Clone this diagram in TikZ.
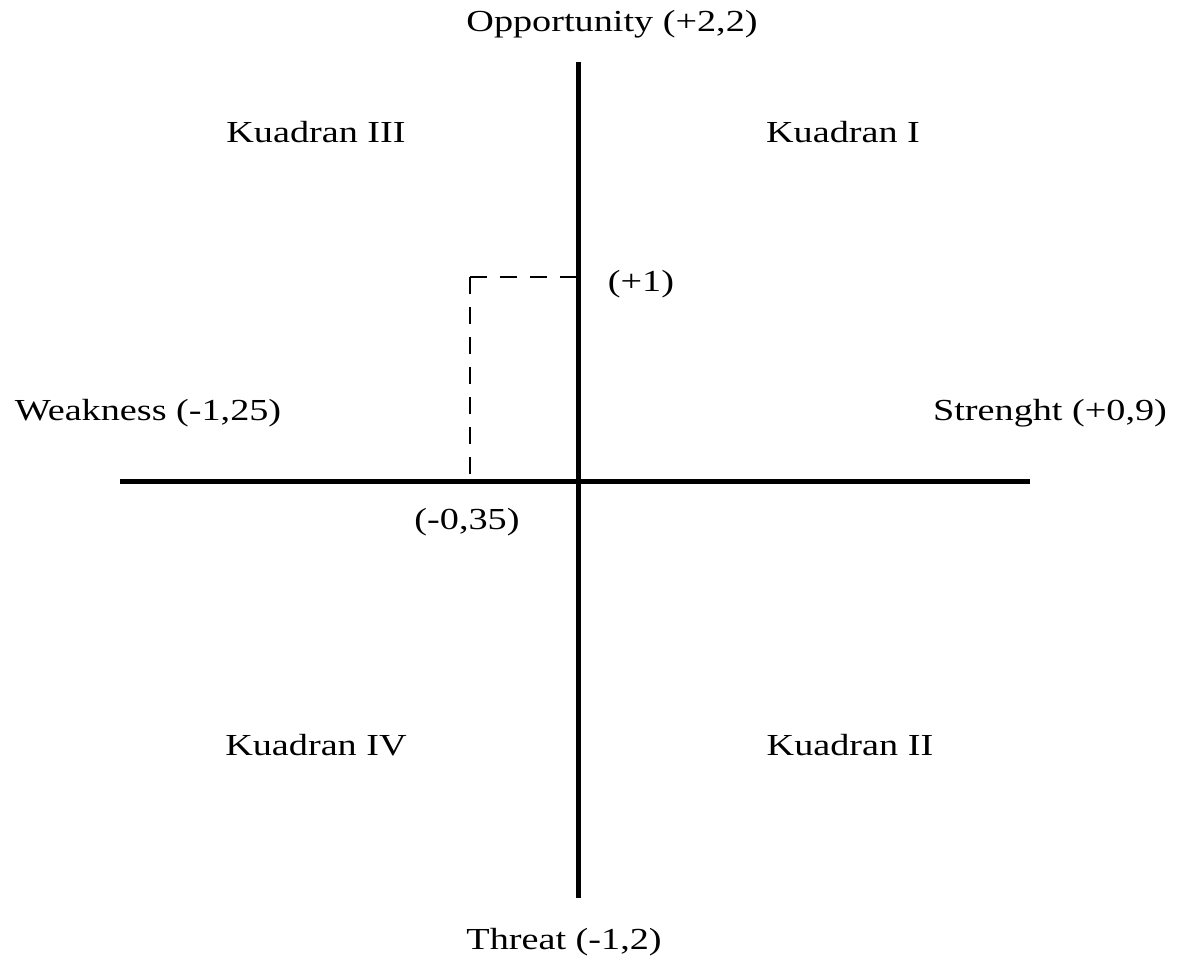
\documentclass[tikz,border=0pt]{standalone}
\usepackage{fontspec}
\setmainfont{Liberation Serif}[FakeStretch=1.25]
\begin{document}
\begin{tikzpicture}[x=0.02cm,y=-0.02cm,
  axis/.style={line width=0.1cm},
  guide/.style={line width=0.05cm,dash pattern=on 0.34cm off 0.26cm},
  lbl/.style={anchor=base,inner sep=0pt,font=\fontsize{17.4}{20}\selectfont}]
\useasboundingbox (0,0) rectangle (1179,959);
\coordinate (top) at (578,62);
\coordinate (bot) at (578,898);
\coordinate (left) at (120,481);
\coordinate (right) at (1030,481);
\coordinate (o) at (578,481);
\coordinate (p) at (578,277);
\coordinate (c) at (470,277);
\coordinate (q) at (470,481);
\draw[axis] (left) -- (right);
\draw[axis] (top) -- (bot);
\draw[guide] (c) -- (p);
\draw[guide] (c) -- (q);
\node[lbl] (opp) at (612,32) {Opportunity (+2,2)};
\node[lbl] (thr) at (564,949) {Threat (-1,2)};
\node[lbl] (weak) at (148,420) {Weakness (-1,25)};
\node[lbl] (str) at (1050,420) {Strenght (+0,9)};
\node[lbl] (one) at (641,292) {(+1)};
\node[lbl] (neg) at (467,529) {(-0,35)};
\node[lbl] (k3) at (316,143) {Kuadran III};
\node[lbl] (k1) at (843,143) {Kuadran I};
\node[lbl] (k4) at (316,755) {Kuadran IV};
\node[lbl] (k2) at (850,755) {Kuadran II};
\end{tikzpicture}
\end{document}
